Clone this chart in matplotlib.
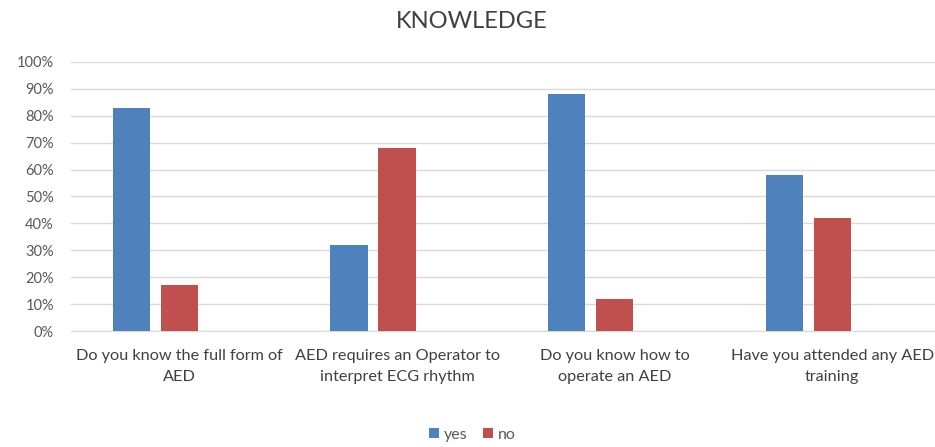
import matplotlib.pyplot as plt
import numpy as np

# survey answers, share of respondents
questions = [
    'Do you know the full form of\nAED',
    'AED requires an Operator to\ninterpret ECG rhythm',
    'Do you know how to\noperate an AED',
    'Have you attended any AED\ntraining',
]
yes = [0.83, 0.32, 0.88, 0.58]
no = [0.17, 0.68, 0.12, 0.42]

plt.rcParams['font.family'] = ['Lato', 'DejaVu Sans']

fig = plt.figure(figsize=(9.35, 4.47), dpi=100)
ax = fig.add_axes([0.0755, 0.2595, 0.931, 0.602])

x = np.arange(len(questions))
w = 0.172
gap = 0.048
# three-slot grouping, the third slot is left empty so 'no' sits on the category
ax.bar(x - (w + gap), yes, w, color='#4F81BD', label='yes', zorder=3)
ax.bar(x, no, w, color='#C0504D', label='no', zorder=3)

ax.set_xlim(-0.5, len(questions) - 0.5)
ax.set_ylim(0, 1.0)
ticks = np.arange(0, 1.01, 0.1)
ax.set_yticks(ticks)
ax.set_yticklabels(['%d%%' % round(v * 100) for v in ticks])
ax.yaxis.grid(True, color='#D9D9D9', linewidth=1, zorder=0)
ax.set_xticks(x)
ax.set_xticklabels(questions, fontsize=11.7, color='#404040', linespacing=1.6)
ax.tick_params(axis='y', labelsize=10.5, labelcolor='#595959', length=0, pad=12)
ax.tick_params(axis='x', length=0, pad=13)
for s in ['top', 'right', 'left']:
    ax.spines[s].set_visible(False)
ax.spines['bottom'].set_color('#D9D9D9')

fig.text(0.505, 0.952, 'KNOWLEDGE', ha='center', va='center', fontsize=17, color='#404040')

fig.legend(loc='center', bbox_to_anchor=(0.505, 0.027), ncol=2, frameon=False,
           fontsize=11.5, handlelength=0.6, handleheight=0.6, handletextpad=0.3,
           columnspacing=1.0, labelcolor='#595959')

fig.savefig('out.png', dpi=100)
